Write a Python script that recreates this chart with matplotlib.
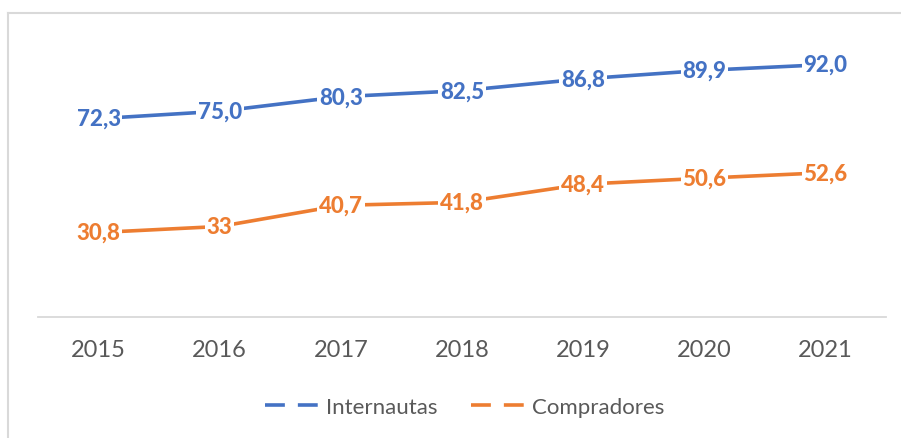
import matplotlib.pyplot as plt
from matplotlib.lines import Line2D

years = ["2015", "2016", "2017", "2018", "2019", "2020", "2021"]
internautas = [72.3, 75.0, 80.3, 82.5, 86.8, 89.9, 92.0]
compradores = [30.8, 33, 40.7, 41.8, 48.4, 50.6, 52.6]
lab_internautas = ["72,3", "75,0", "80,3", "82,5", "86,8", "89,9", "92,0"]
lab_compradores = ["30,8", "33", "40,7", "41,8", "48,4", "50,6", "52,6"]

blue = "#4472C4"
orange = "#ED7D31"
grey = "#595959"

plt.rcParams["font.family"] = ["Lato", "DejaVu Sans"]

fig = plt.figure(figsize=(9.01, 4.39), dpi=100)
ax = fig.add_axes([38 / 901, 0.2756, 848 / 901, 0.625])

# chart-area border, only top and left edges show in the crop
bx, by = 8 / 901, 1 - 13.5 / 439
fig.add_artist(Line2D([bx, 1], [by, by], transform=fig.transFigure, color="#d9d9d9", lw=1.5))
fig.add_artist(Line2D([bx, bx], [0, by], transform=fig.transFigure, color="#d9d9d9", lw=1.5))

x = list(range(len(years)))
ax.plot(x, internautas, color=blue, lw=2.6, solid_capstyle="round")
ax.plot(x, compradores, color=orange, lw=2.6, solid_capstyle="round")

for xi, v, t in zip(x, internautas, lab_internautas):
    ax.text(xi, v, t, color=blue, fontsize=16, fontweight=900, ha="center", va="center",
            bbox=dict(boxstyle="square,pad=0.08", fc="white", ec="none"))
for xi, v, t in zip(x, compradores, lab_compradores):
    ax.text(xi, v, t, color=orange, fontsize=16, fontweight=900, ha="center", va="center",
            bbox=dict(boxstyle="square,pad=0.08", fc="white", ec="none"))

ax.set_xlim(-0.5, len(years) - 0.5)
ax.set_ylim(0, 100)
ax.set_xticks(x)
ax.set_xticklabels(years, fontsize=17, color=grey)
ax.tick_params(axis="x", length=0, pad=16)
ax.set_yticks([])
for s in ["top", "right", "left"]:
    ax.spines[s].set_visible(False)
ax.spines["bottom"].set_color("#d9d9d9")
ax.spines["bottom"].set_linewidth(1.3)

handles = [Line2D([], [], color=blue, lw=2.6, linestyle=(0, (5.5, 3.6))),
           Line2D([], [], color=orange, lw=2.6, linestyle=(0, (5.5, 3.6)))]
fig.legend(handles, ["Internautas", "Compradores"], loc="center", bbox_to_anchor=(465 / 901, 1 - 408 / 439),
           ncol=2, frameon=False, fontsize=16, labelcolor=grey, handlelength=2.5, handletextpad=0.25,
           columnspacing=1.5)

fig.savefig("out.png", dpi=100)
